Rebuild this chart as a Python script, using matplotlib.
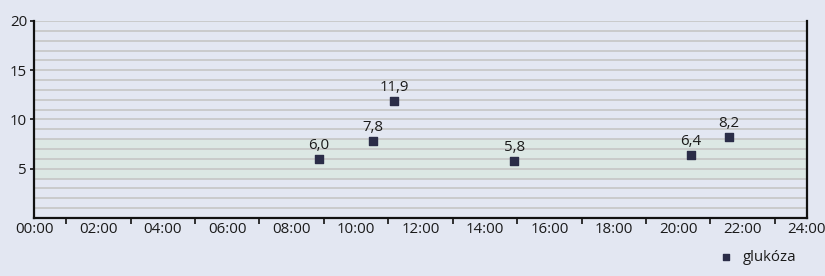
import matplotlib
matplotlib.use("Agg")
import matplotlib.pyplot as plt
from matplotlib.ticker import MultipleLocator

plt.rcParams['font.family'] = ['Open Sans', 'DejaVu Sans']

# data: hours of day and glucose values
times_h = [8 + 50/60, 10 + 32/60, 11 + 11/60, 14 + 55/60, 20 + 23/60, 21 + 34/60]
values = [6.0, 7.8, 11.9, 5.8, 6.4, 8.2]
labels = ["6,0", "7,8", "11,9", "5,8", "6,4", "8,2"]
x_ticks = list(range(0, 25, 2))
x_tick_labels = [f"{h:02d}:00" for h in x_ticks]
y_ticks = [5, 10, 15, 20]
band = (4, 8)
series_name = "glukóza"

bg = "#E3E7F2"
fs = 10.8
fig = plt.figure(figsize=(8.25, 2.76), dpi=100, facecolor=bg)
ax = fig.add_axes([34/825, 1 - 218/276, (807-34)/825, (218-21)/276])
ax.set_facecolor(bg)
ax.set_xlim(0, 24)
ax.set_ylim(0, 20)

ax.axhspan(band[0], band[1], color="#DCE8E4", zorder=0, lw=0)
for yv in range(1, 21):
    ax.axhline(yv, color="#C8C8C8", lw=1.3, zorder=1)

mcol = "#2B2D48"
ax.scatter(times_h, values, marker="s", s=34, color=mcol, zorder=3, label=series_name)
for x, y, t in zip(times_h, values, labels):
    ax.annotate(t, (x, y), xytext=(0, 4.5), textcoords="offset points",
                ha="center", va="bottom", fontsize=fs, color="#1a1a1a")

ax.set_xticks(x_ticks)
ax.set_xticklabels(x_tick_labels, fontsize=fs, color="#1a1a1a")
ax.xaxis.set_minor_locator(MultipleLocator(1))
ax.tick_params(axis="x", which="major", length=0, pad=3)
ax.tick_params(axis="x", which="minor", length=4, width=1.2, color="#111")
ax.set_yticks(y_ticks)
ax.set_yticklabels([str(v) for v in y_ticks], fontsize=fs, color="#1a1a1a")
ax.tick_params(axis="y", length=3, width=1.2, pad=2, color="#111")

for s in ["left", "bottom", "right"]:
    ax.spines[s].set_linewidth(1.6)
    ax.spines[s].set_color("#111")
ax.spines["top"].set_visible(False)

leg = fig.legend(loc="lower right", bbox_to_anchor=(810/825, -0.01), frameon=False,
                 fontsize=fs, handletextpad=0.1, markerscale=0.85)
for txt in leg.get_texts():
    txt.set_color("#1a1a1a")

fig.savefig("out.png", dpi=100, facecolor=bg)
